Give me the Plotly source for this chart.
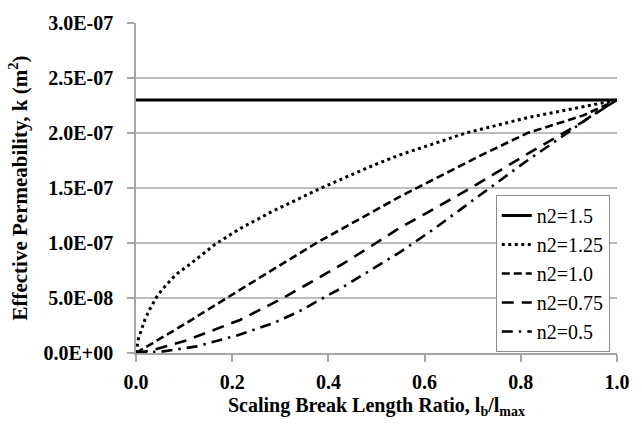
import plotly.graph_objects as go

# Effective permeability vs scaling break length ratio for several n2 exponents
labels = ["n2=1.5", "n2=1.25", "n2=1.0", "n2=0.75", "n2=0.5"]

x_n150 = [0.0, 1.0]
k_n150 = [2.30e-7, 2.30e-7]

x_n125 = [0.0, 0.002, 0.005, 0.012, 0.019, 0.029, 0.043, 0.053, 0.082, 0.11, 0.165,
          0.216, 0.28, 0.385, 0.49, 0.548, 0.582, 0.686, 0.814, 0.935, 1.0]
k_n125 = [0.0, 0.07e-7, 0.13e-7, 0.22e-7, 0.31e-7, 0.40e-7, 0.51e-7, 0.57e-7, 0.71e-7, 0.80e-7, 0.99e-7,
          1.13e-7, 1.28e-7, 1.50e-7, 1.70e-7, 1.80e-7, 1.85e-7, 2.00e-7, 2.14e-7, 2.245e-7, 2.30e-7]

x_n100 = [0.0, 0.1, 0.216, 0.375, 0.548, 0.589, 0.714, 0.814, 0.93, 1.0]
k_n100 = [0.0, 0.26e-7, 0.574e-7, 1.00e-7, 1.42e-7, 1.51e-7, 1.79e-7, 2.00e-7, 2.16e-7, 2.30e-7]

x_n075 = [0.0, 0.036, 0.105, 0.216, 0.306, 0.43, 0.499, 0.548, 0.603, 0.696, 0.81, 0.928, 1.0]
k_n075 = [0.0, 0.027e-7, 0.115e-7, 0.30e-7, 0.50e-7, 0.81e-7, 1.00e-7, 1.136e-7, 1.27e-7, 1.50e-7,
          1.80e-7, 2.10e-7, 2.30e-7]

x_n050 = [0.0, 0.057, 0.126, 0.21, 0.285, 0.34, 0.389, 0.423, 0.52, 0.548, 0.617, 0.734, 0.807,
          0.9, 0.948, 1.0]
k_n050 = [0.0, 0.015e-7, 0.06e-7, 0.16e-7, 0.27e-7, 0.38e-7, 0.50e-7, 0.58e-7, 0.84e-7, 0.914e-7,
          1.12e-7, 1.50e-7, 1.73e-7, 2.01e-7, 2.16e-7, 2.30e-7]

y_tickvals = [0.0, 0.5e-7, 1.0e-7, 1.5e-7, 2.0e-7, 2.5e-7, 3.0e-7]
y_ticktext = ["0.0E+00", "5.0E-08", "1.0E-07", "1.5E-07", "2.0E-07", "2.5E-07", "3.0E-07"]
x_tickvals = [0.0, 0.2, 0.4, 0.6, 0.8, 1.0]

series = [
    (x_n150, k_n150, "solid", 3),
    (x_n125, k_n125, "3px,3.5px", 3),
    (x_n100, k_n100, "8px,4px", 2.6),
    (x_n075, k_n075, "12px,8px", 2.6),
    (x_n050, k_n050, "11px,6px,2.5px,6px", 2.6),
]

fig = go.Figure()
for (xs, ks, dash, w), name in zip(series, labels):
    fig.add_trace(go.Scatter(
        x=xs, y=ks, mode="lines", name=name,
        line=dict(color="black", width=w, dash=dash),
    ))

serif = "Liberation Serif"
grid_c = "#bdbdbd"
axis_c = "#a6a6a6"

fig.update_layout(
    width=642, height=425,
    margin=dict(l=136, r=24, t=20, b=67),
    paper_bgcolor="white", plot_bgcolor="white",
    font=dict(family=serif, color="black", size=19),
    showlegend=True,
    legend=dict(
        x=0.985, y=0.479, xanchor="right", yanchor="top",
        bgcolor="white", bordercolor="#8c8c8c", borderwidth=1,
        font=dict(family=serif, size=20, color="black"),
        itemwidth=30, tracegroupgap=0,
    ),
    xaxis=dict(
        range=[0, 1], tickvals=x_tickvals, tickformat=".1f",
        showgrid=False, zeroline=False,
        showline=True, linecolor=axis_c, linewidth=1.5,
        ticks="outside", ticklen=7, tickcolor=axis_c, tickwidth=1.5,
        ticklabelstandoff=3,
        tickfont=dict(family=serif, size=20, weight="bold"),
        title=dict(text="Scaling Break Length Ratio, l<sub>b</sub>/l<sub>max</sub>",
                   font=dict(family=serif, size=20, weight="bold"), standoff=6),
    ),
    yaxis=dict(
        range=[0, 3.0e-7], tickvals=y_tickvals, ticktext=y_ticktext,
        showgrid=True, gridcolor=grid_c, gridwidth=1.5, zeroline=False,
        showline=True, linecolor=axis_c, linewidth=1.5,
        ticks="outside", ticklen=7, tickcolor=axis_c, tickwidth=1.5,
        ticklabelstandoff=10,
        tickfont=dict(family=serif, size=20, weight="bold"),
        title=dict(text="Effective Permeability, k (m<sup>2</sup>)",
                   font=dict(family=serif, size=21, weight="bold"), standoff=10),
    ),
)

fig.write_html("out.html")
